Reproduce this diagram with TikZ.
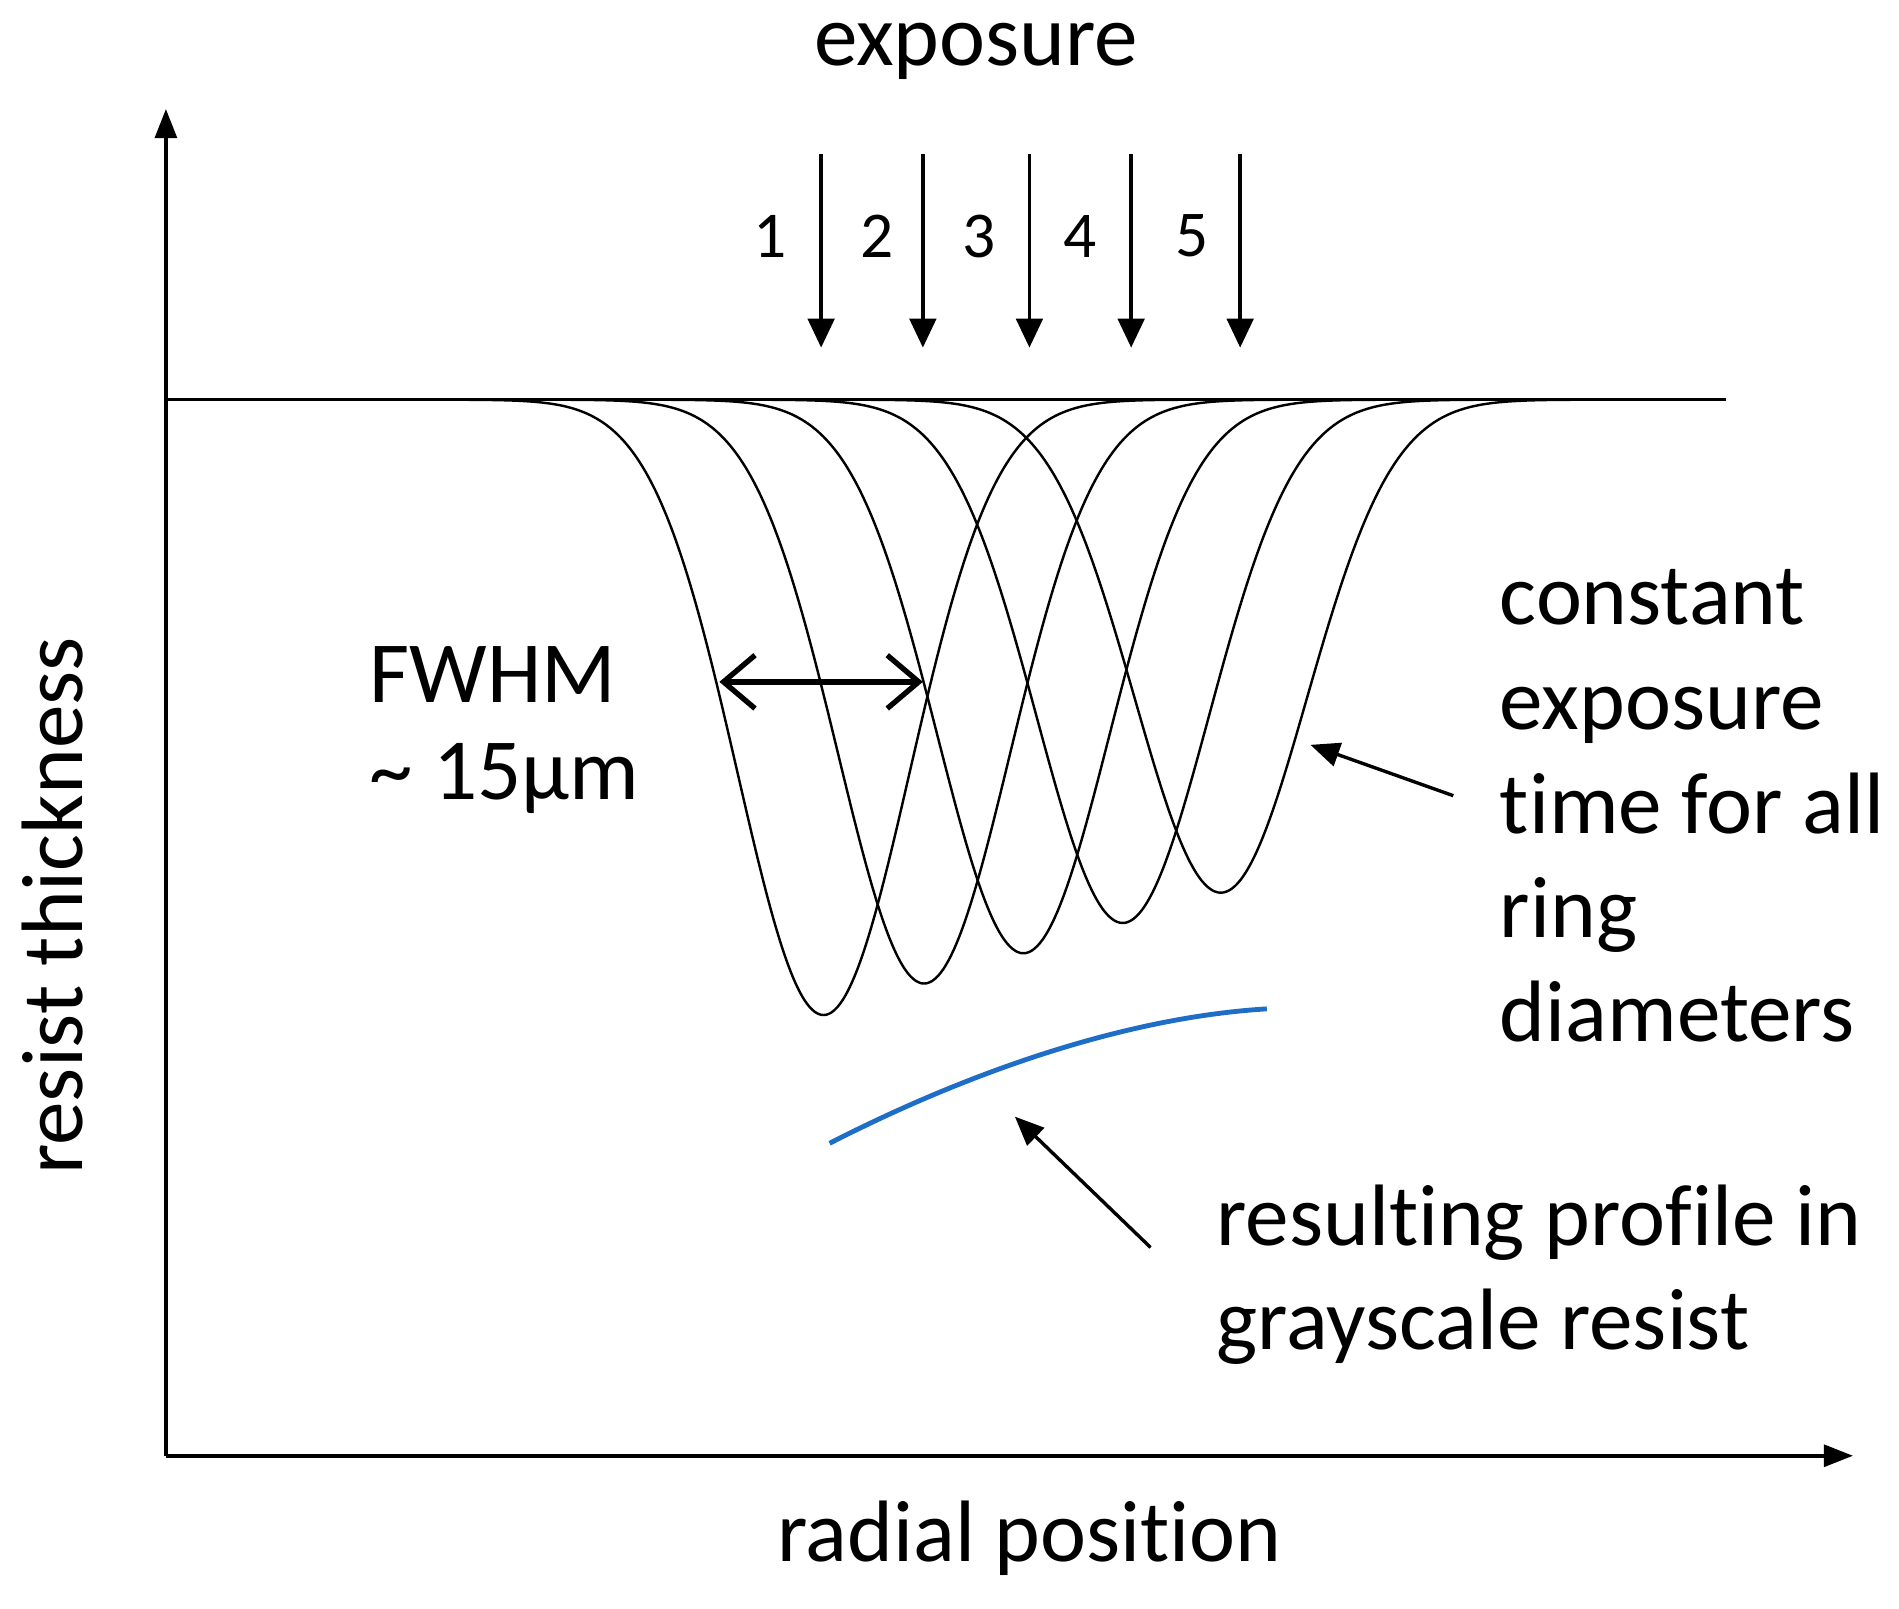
\documentclass[tikz,border=0pt]{standalone}
\usepackage{fontspec}
\setmainfont{Carlito}[Ligatures={NoCommon}]
\usetikzlibrary{arrows.meta}
\definecolor{profblue}{RGB}{30,110,200}
\begin{document}
\begin{tikzpicture}[x=0.5pt,y=-0.5pt,
  big/.style={font=\fontsize{36}{43}\selectfont,inner sep=0pt},
  num/.style={font=\fontsize{27}{30}\selectfont,inner sep=0pt},
  curve/.style={line width=1pt},
  expo/.style={line width=1.4pt,-{Triangle[length=12pt,width=11pt]}},
  ax/.style={line width=1.5pt,-{Triangle[length=12pt,width=9pt]}},
  lab/.style={line width=1.4pt,-{Triangle[length=12pt,width=10pt]}}]
\useasboundingbox (0,0) rectangle (1568,1328);
% axes
\coordinate (O) at (137,1202);
\coordinate (Yt) at (137,90);
\coordinate (Xt) at (1530,1202);
\draw[ax] (O) -- (Yt);
\draw[ax] (O) -- (Xt);
% baseline
\draw[curve] (137,330) -- (1425,330);
% gaussians
\foreach \c/\d in {680/508,763/482,845/457,927/432,1008/407}{
  \draw[curve] plot[domain=\c-360:\c+360,samples=160,smooth] (\x,{330+\d*exp(-((\x-\c)/71)^2/2)});
}
% exposure arrows
\foreach \xx/\n [count=\i] in {678/1,762/2,850/3,934/4,1024/5}{
  \coordinate (s\i) at (\xx,127);
  \coordinate (e\i) at (\xx,287);
  \draw[expo] (s\i) -- (e\i);
}
\foreach \xx/\n [count=\i] in {636/1,724/2,808/3,892/4,984/5}
  \node[num] (d\i) at (\xx,195) {\n};
% FWHM
\coordinate (f1) at (594,563);
\coordinate (f2) at (762,563);
\draw[line width=2.2pt,{Straight Barb[length=13pt,width=22pt]}-{Straight Barb[length=13pt,width=22pt]}] (f1) -- (f2);
\node[big,anchor=west] (fw1) at (305,557) {FWHM};
\node[big,anchor=west] (fw2) at (305,643) {\textasciitilde{} 15µm};
% blue profile
\coordinate (b1) at (685,944);
\coordinate (b2) at (1046,833);
\draw[profblue,line width=2pt] (b1) .. controls (800,885) and (930,840) .. (b2);
% texts
\node[big,anchor=north west,align=left] (const) at (1238,470) {constant\\exposure\\time for all\\ring\\diameters};
\node[big,anchor=north west,align=left] (res) at (1004,978) {resulting profile in\\grayscale resist};
\node[big] (expt) at (806,42) {exposure};
\node[big] (rad) at (850,1270) {radial position};
\node[big,rotate=90] (rt) at (43,748) {resist thickness};
% label arrows
\coordinate (a1s) at (1200,657);
\coordinate (a1e) at (1082,615);
\draw[lab] (a1s) -- (a1e);
\coordinate (a2s) at (950,1030);
\coordinate (a2e) at (838,922);
\draw[lab] (a2s) -- (a2e);
\end{tikzpicture}
\end{document}
